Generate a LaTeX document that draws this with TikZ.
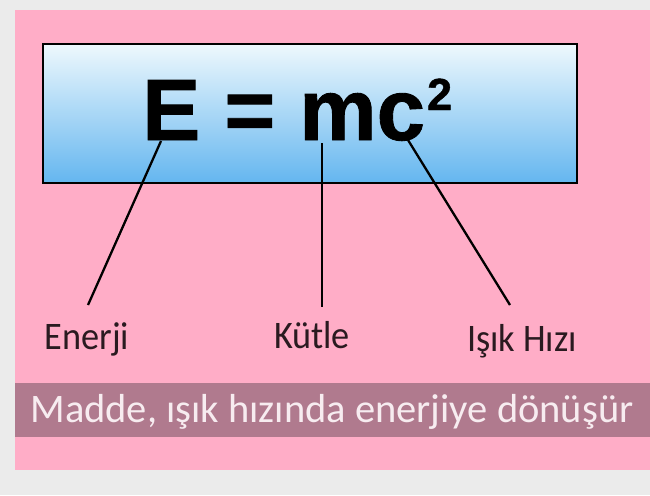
\documentclass[tikz,border=0pt]{standalone}
\usepackage{fontspec}
\setmainfont{Carlito}
\newfontfamily\lblfont[FakeStretch=0.93]{Carlito}
\newfontfamily\eqfont[BoldFeatures={FakeBold=1}]{Liberation Sans}
\definecolor{bggray}{HTML}{EBEBEB}
\definecolor{pinkbg}{HTML}{FFADC7}
\definecolor{bandcol}{HTML}{B07A8E}
\definecolor{boxtop}{HTML}{EEF8FD}
\definecolor{boxbot}{HTML}{64B6EF}
\definecolor{labtext}{HTML}{2A1A20}
\definecolor{bandtext}{HTML}{F7ECF0}
\begin{document}
\begin{tikzpicture}[x=1pt,y=-1pt,
  lbl/.style={font=\lblfont\fontsize{39}{41}\selectfont, text=labtext, inner sep=0pt, anchor=base},
  ptr/.style={line width=2.3pt, black}]
\useasboundingbox (0,0) rectangle (650,495);
\fill[bggray] (0,0) rectangle (650,495);
\fill[pinkbg] (15,10) rectangle (650,470);
\fill[bandcol] (15,383) rectangle (650,437);
\node[font=\fontsize{40.5}{42}\selectfont, text=bandtext, inner sep=0pt, anchor=base] (band) at (332,422) {Madde, ışık hızında enerjiye dönüşür};
\shade[top color=boxtop, bottom color=boxbot] (43,44) rectangle (577,183);
\draw[line width=2.5pt, black] (43,44) rectangle (577,183);
\node[font=\eqfont\bfseries\fontsize{87}{90}\selectfont, inner sep=0pt, anchor=base west] (eq) at (142,140) {E = mc\kern2pt\raisebox{30pt}{\fontsize{45}{47}\selectfont 2}};
\coordinate (cE) at (161,141);
\coordinate (cM) at (322,143);
\coordinate (cC) at (408,140);
\coordinate (eE) at (88,305);
\coordinate (eM) at (322,307);
\coordinate (eC) at (510,305);
\node[lbl] (enerji) at (87,349) {Enerji};
\node[lbl] (kutle) at (312,348) {Kütle};
\node[lbl] (isik) at (522,351) {Işık Hızı};
\draw[ptr] (cE) -- (eE);
\draw[ptr] (cM) -- (eM);
\draw[ptr] (cC) -- (eC);
\end{tikzpicture}
\end{document}
